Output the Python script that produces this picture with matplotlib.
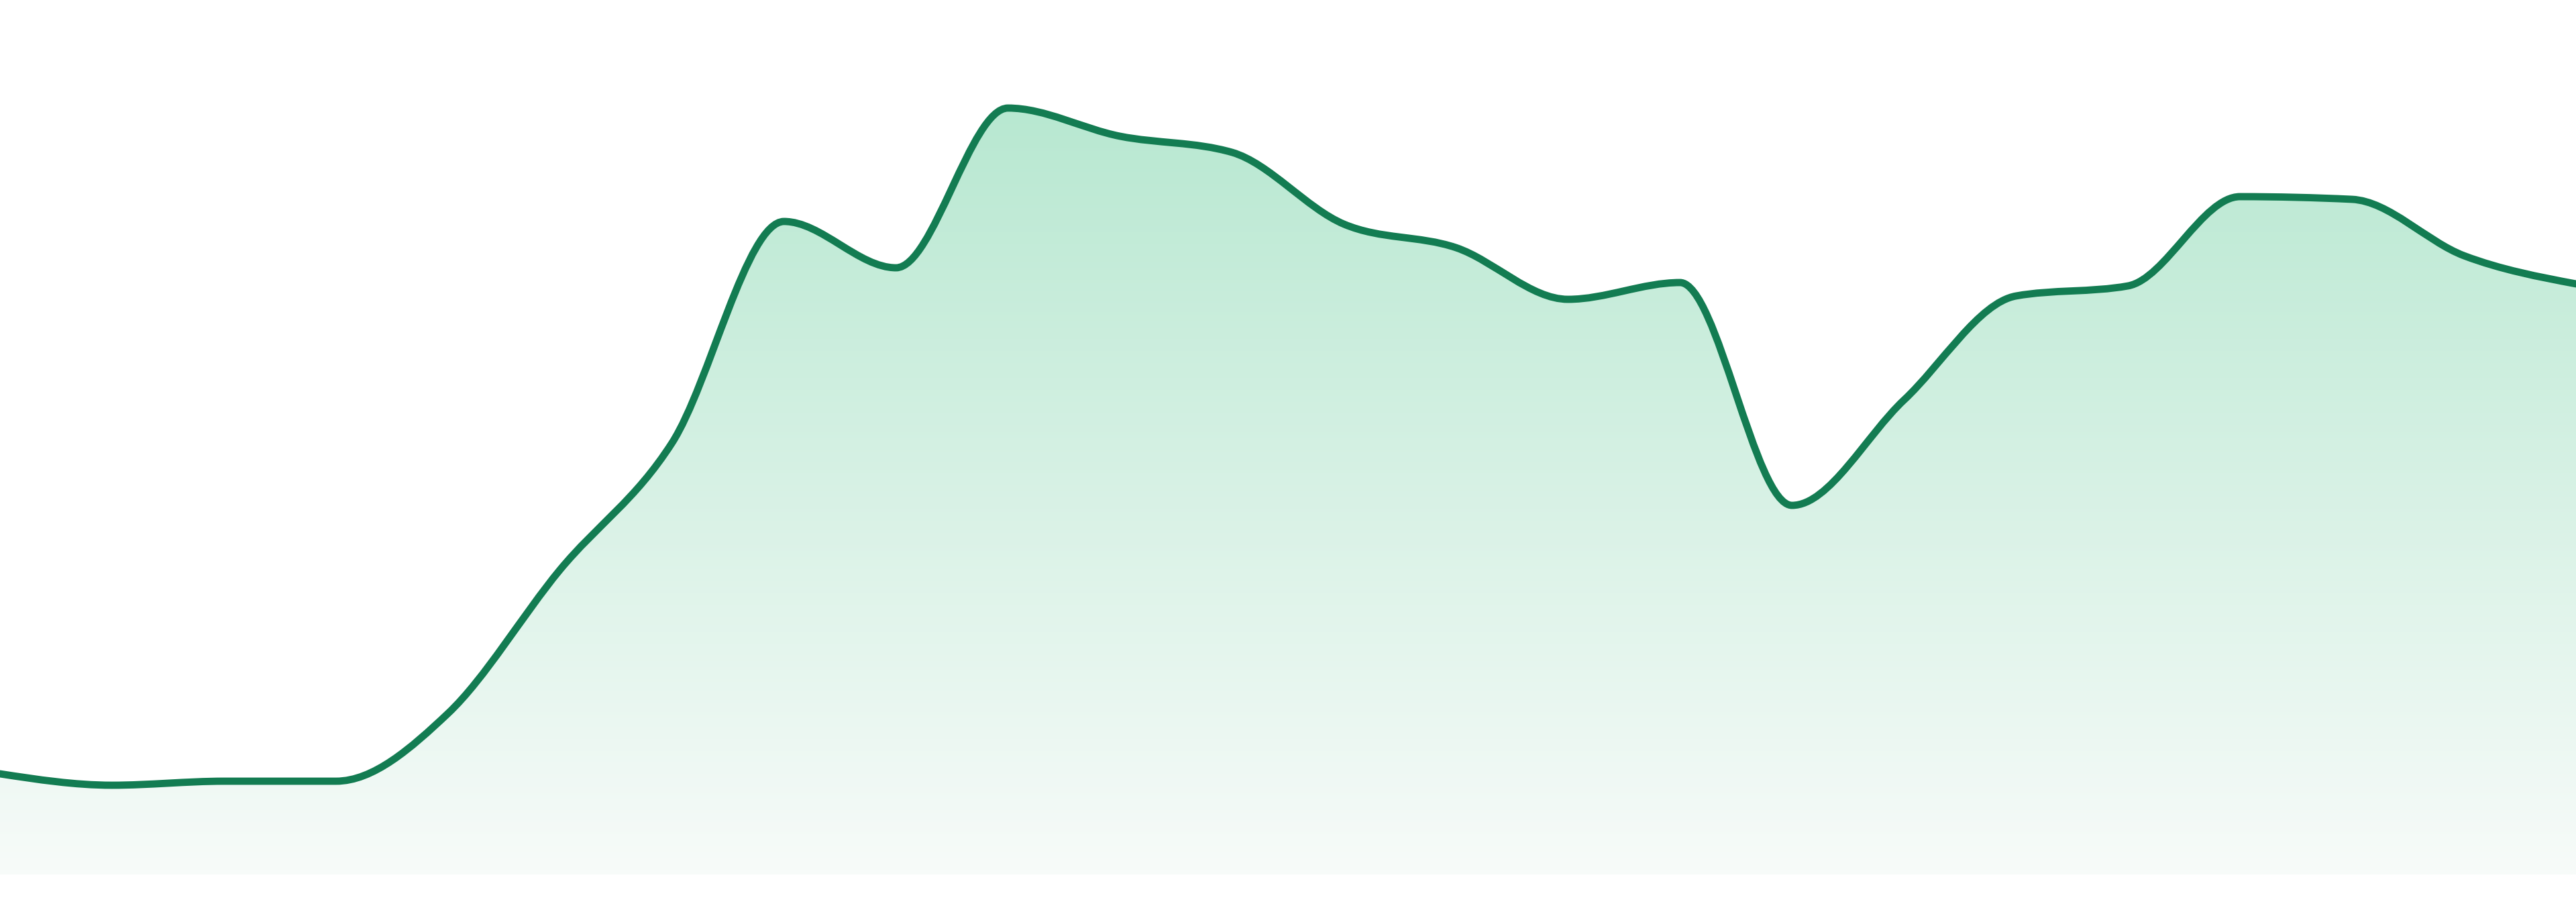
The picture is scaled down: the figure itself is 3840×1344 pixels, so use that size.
import numpy as np
import matplotlib
matplotlib.use('Agg')
from matplotlib import pyplot as plt
from matplotlib.path import Path
from matplotlib.patches import PathPatch
from matplotlib.colors import LinearSegmentedColormap

# values (pixel-height units above the baseline)
steps = list(range(24))
values = [150, 133, 139, 139, 240, 454, 643, 973, 904, 1142, 1100, 1076,
          969, 934, 857, 882, 550, 707, 862, 877, 1010, 1006, 922, 880]

line_color = '#137c52'
fill_top = '#b8e8d1'
fill_bottom = '#f7fbf9'


def monotone_slopes(x, y):
    '''Tangents as in d3.curveMonotoneX.'''
    x = np.asarray(x, float)
    y = np.asarray(y, float)
    n = len(x)
    t = np.zeros(n)
    for i in range(1, n - 1):
        h0 = x[i] - x[i - 1]
        h1 = x[i + 1] - x[i]
        s0 = (y[i] - y[i - 1]) / h0
        s1 = (y[i + 1] - y[i]) / h1
        p = (s0 * h1 + s1 * h0) / (h0 + h1)
        t[i] = (np.sign(s0) + np.sign(s1)) * min(abs(s0), abs(s1), 0.5 * abs(p))
    h = x[1] - x[0]
    t[0] = (3 * (y[1] - y[0]) / h - t[1]) / 2
    h = x[-1] - x[-2]
    t[-1] = (3 * (y[-1] - y[-2]) / h - t[-2]) / 2
    return t


def monotone_path(x, y):
    t = monotone_slopes(x, y)
    verts = [(x[0], y[0])]
    codes = [Path.MOVETO]
    for i in range(len(x) - 1):
        dx = (x[i + 1] - x[i]) / 3
        verts += [(x[i] + dx, y[i] + dx * t[i]),
                  (x[i + 1] - dx, y[i + 1] - dx * t[i + 1]),
                  (x[i + 1], y[i + 1])]
        codes += [Path.CURVE4] * 3
    return verts, codes


fig = plt.figure(figsize=(19.2, 6.72), dpi=200)
ax = fig.add_axes([0, 41 / 1344, 1, 1303 / 1344])
ax.set_xlim(steps[0], steps[-1])
ax.set_ylim(0, 1303)
ax.axis('off')

verts, codes = monotone_path(steps, values)

# area under the curve, filled with a vertical gradient
area_verts = verts + [(steps[-1], 0), (steps[0], 0), (steps[0], values[0])]
area_codes = codes + [Path.LINETO, Path.LINETO, Path.CLOSEPOLY]
area = PathPatch(Path(area_verts, area_codes), facecolor='none',
                 edgecolor='none', transform=ax.transData)
ax.add_patch(area)

cmap = LinearSegmentedColormap.from_list('fade', [fill_bottom, fill_top])
grad = np.linspace(0, 1, 256).reshape(-1, 1)
img = ax.imshow(grad, cmap=cmap, origin='lower', aspect='auto',
                extent=[steps[0], steps[-1], 0, max(values)],
                interpolation='bicubic', zorder=1)
img.set_clip_path(area)

line = PathPatch(Path(verts, codes), facecolor='none', edgecolor=line_color,
                 linewidth=3.9, capstyle='round', joinstyle='round', zorder=3)
ax.add_patch(line)

fig.savefig('out.png', dpi=200, facecolor='white')
